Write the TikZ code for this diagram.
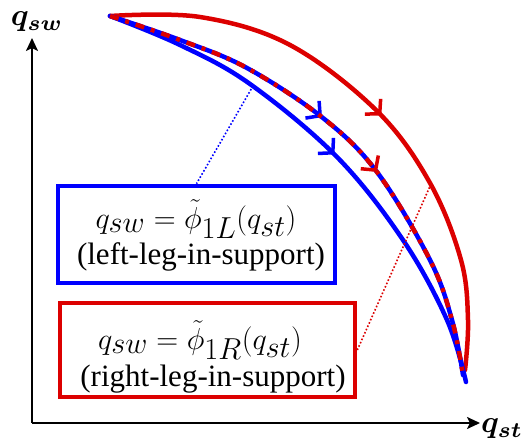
\documentclass[tikz,border=0pt]{standalone}
\usepackage{fontspec}
\setmainfont{Liberation Serif}
\usepackage{graphicx}
\usepackage{bm}
\usetikzlibrary{arrows.meta,decorations.markings}
\definecolor{myred}{RGB}{220,0,0}
\definecolor{myblue}{RGB}{0,0,255}
\tikzset{
  axis/.style={line width=2.2pt,-{Stealth[length=13pt,width=12pt,inset=3pt]}},
  curve/.style={line width=4.5pt,line cap=round},
  eqbox/.style={line width=4.6pt,minimum width=#1,inner sep=0pt},
  eqtext/.style={inner sep=0pt,anchor=base,font=\fontsize{36}{40}\selectfont},
  captext/.style={inner sep=0pt,anchor=base,font=\fontsize{31}{34}\selectfont},
  conn/.style={line width=1.6pt,dotted},
  axlabel/.style={inner sep=0pt},
  midarrow/.style 2 args={postaction={decorate},decoration={markings,mark=at position #1 with {\arrow[#2]{Straight Barb[length=10pt,width=22pt,line width=3.5pt]}}}}
}
\newcommand{\axmath}[1]{\scalebox{3.1}{$#1$}}
\newcommand{\boxmath}[1]{\scalebox{1.22}{$#1$}}
\begin{document}
\begin{tikzpicture}[x=1pt,y=-1pt]
\useasboundingbox (0,0) rectangle (522,441);
% axes
\coordinate (O) at (32,423);
\coordinate (ytip) at (32,38);
\coordinate (xtip) at (480,423);
\draw[axis] (O) -- (ytip);
\draw[axis] (O) -- (xtip);
\node[axlabel] (qsw) at (37,22) {\axmath{\bm{q}_{\bm{sw}}}};
\node[axlabel] (qst) at (502,429) {\axmath{\bm{q}_{\bm{st}}}};
% outer red curve
\draw[curve,myred,midarrow={0.52}{myred}] plot[smooth,tension=0.6] coordinates {(110,16) (200,17) (290,45) (377,111) (430,183) (461,260) (468,320) (465,370)};
% blue solid curve
\draw[curve,myblue,midarrow={0.5}{myblue}] plot[smooth,tension=0.6] coordinates {(110,16) (180,45) (250,84) (337,157) (403,240) (447,320) (466,382)};
% dash-dot curve: blue under, red dash-dot over
\draw[curve,myblue,midarrow={0.44}{myblue}] plot[smooth,tension=0.6] coordinates {(110,16) (180,40) (247,68) (323,118) (377,172) (430,260) (452,320) (463,375)};
\draw[line width=4.5pt,myred,dash pattern=on 9pt off 7pt on 4pt off 7pt,midarrow={0.585}{myred}] plot[smooth,tension=0.6] coordinates {(110,16) (180,40) (247,68) (323,118) (377,172) (430,260) (452,320) (463,375)};
% points on curves
\coordinate (bluept) at (253,86);
\coordinate (redpt) at (431,184);
% boxes
\node[eqbox=277pt,draw=myblue,minimum height=97pt] (bluebox) at (196.5,234.5) {};
\node[eqtext] (blueeq) at (196,228) {\boxmath{q_{sw}=\tilde{\phi}_{1L}(q_{st})}};
\node[captext] (bluecap) at (201,264) {(left-leg-in-support)};
\node[eqbox=295pt,draw=myred,minimum height=94pt] (redbox) at (207.5,350) {};
\node[eqtext] (redeq) at (200,349) {\boxmath{q_{sw}=\tilde{\phi}_{1R}(q_{st})}};
\node[captext] (redcap) at (213,386) {(right-leg-in-support)};
% connectors
\draw[conn,myblue] (bluept) -- (bluebox.north);
\draw[conn,myred] (redpt) -- (redbox.east);
\end{tikzpicture}
\end{document}
